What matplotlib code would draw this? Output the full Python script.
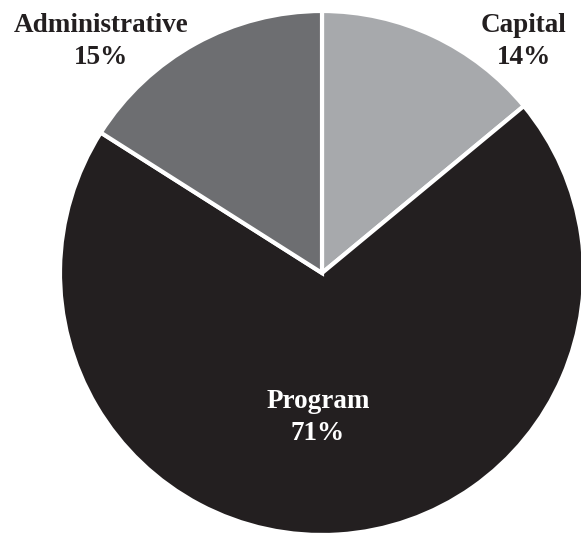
import matplotlib
matplotlib.use('Agg')
import matplotlib.pyplot as plt

# slice data (clockwise from 12 o'clock)
categories = ['Capital', 'Program', 'Administrative']
shares = [14.0, 70.0, 16.0]
pct_labels = ['14%', '71%', '15%']
colors = ['#a7a9ac', '#231f20', '#6d6e71']

W, H = 581, 536
fig = plt.figure(figsize=(W / 100, H / 100), dpi=100)
ax = fig.add_axes([0, 0, 1, 1])

cx, cy, r = 322, H - 273, 262
ax.pie(shares, colors=colors, startangle=90, counterclock=False,
       center=(cx, cy), radius=r, frame=True,
       wedgeprops={'edgecolor': 'white', 'linewidth': 3})
ax.set_xlim(0, W)
ax.set_ylim(0, H)
ax.set_aspect('equal')
ax.axis('off')

font = {'family': 'Liberation Serif', 'weight': 'bold', 'size': 19.5}
# label positions in pixels from top-left
label_pos = {'Capital': (524, 25, 58), 'Program': (318, 401, 434),
             'Administrative': (101, 25, 58)}
text_colors = {'Capital': '#231f20', 'Program': 'white', 'Administrative': '#231f20'}

for name, pct in zip(categories, pct_labels):
    x, y1, y2 = label_pos[name]
    ax.text(x, H - y1, name, ha='center', va='center', color=text_colors[name], **font)
    ax.text(x, H - y2, pct, ha='center', va='center', color=text_colors[name], **font)

fig.savefig('out.png', dpi=100)
